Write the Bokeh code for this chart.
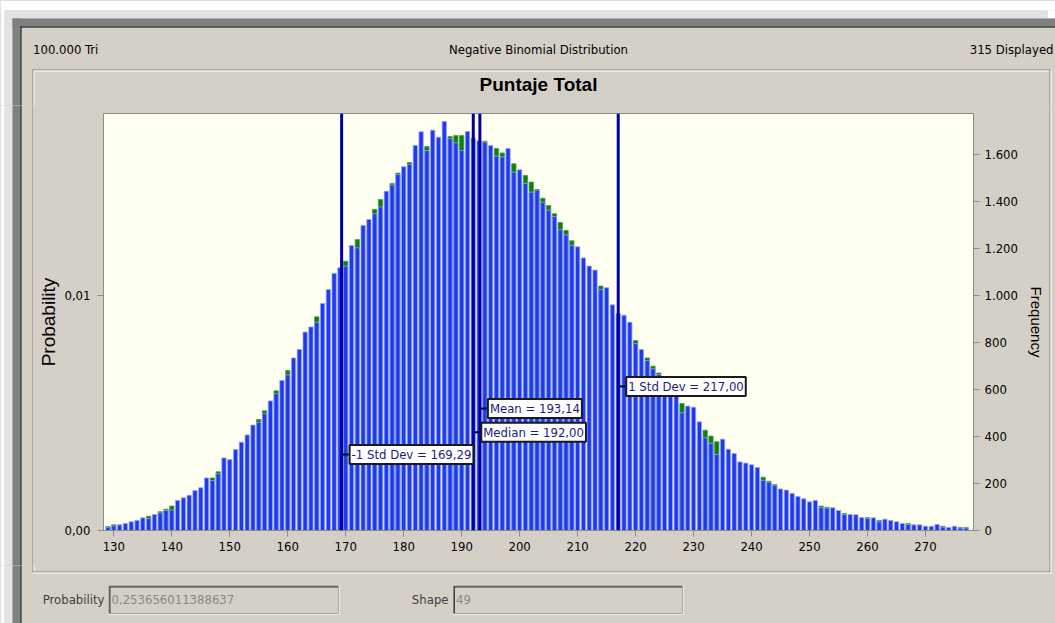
from bokeh.plotting import figure
from bokeh.layouts import column, row
from bokeh.models import (Range1d, LinearAxis, FixedTicker, CustomJSTickFormatter,
                          Span, Label)
from bokeh.core.properties import value
from bokeh.embed import file_html
from bokeh.resources import INLINE

# ---------------- data ----------------
bins = list(range(129, 278))
freq = [14, 20, 24, 30, 37, 43, 54, 51, 68, 75,          # 129-138
        85, 87, 128, 139, 150, 170, 182, 224, 213, 241,  # 139-148
        309, 302, 345, 376, 407, 449, 461, 498, 552, 582,  # 149-158
        639, 663, 735, 771, 845, 867, 887, 967, 1026, 1095,  # 159-168
        1119, 1126, 1214, 1204, 1299, 1325, 1349, 1378, 1445, 1471,  # 169-178
        1516, 1549, 1559, 1640, 1698, 1618, 1705, 1675, 1742, 1669,  # 179-188
        1651, 1618, 1699, 1672, 1660, 1654, 1640, 1594, 1591, 1627,  # 189-198
        1526, 1536, 1478, 1441, 1449, 1398, 1364, 1337, 1281, 1259,  # 199-208
        1215, 1208, 1161, 1126, 1109, 1026, 1034, 961, 924, 917,  # 209-218
        887, 796, 771, 724, 689, 664, 643, 608, 579, 501,  # 219-228
        530, 525, 463, 395, 371, 324, 389, 346, 328, 292,  # 229-238
        287, 280, 268, 214, 206, 192, 177, 172, 158, 145,  # 239-248
        135, 122, 128, 97, 95, 97, 85, 68, 68, 67,  # 249-258
        55, 51, 54, 37, 48, 43, 37, 30, 26, 24,  # 259-268
        24, 18, 18, 26, 14, 13, 18, 10, 10]  # 269-277

fit_bins = [129, 130, 136, 138, 139, 140, 147, 148, 155, 156, 158, 160, 165, 170,
            172, 175, 176, 178, 179, 181, 184, 188, 189, 190, 194, 196, 197, 199,
            201, 202, 203, 204, 205, 206, 207, 208, 209, 214, 220, 222, 223, 224,
            228, 232, 233, 234, 242, 243, 244, 252, 253, 256, 260, 262, 267, 273,
            276, 277]
fit_vals = [17, 24, 61, 80, 91, 104, 224, 250, 473, 510, 595, 681, 910, 1147,
            1239, 1367, 1410, 1478, 1522, 1567, 1635, 1678, 1682, 1682, 1658, 1627, 1608, 1562,
            1512, 1484, 1452, 1415, 1384, 1349, 1312, 1278, 1234, 1041, 809, 735, 700, 671,
            541, 427, 402, 378, 227, 210, 196, 104, 99, 72, 55, 43, 30, 18,
            13, 13]

stat_names = ["-1 Std Dev", "Median", "Mean", "1 Std Dev"]
stat_vals = [169.29, 192.00, 193.14, 217.00]

x_ticks = list(range(130, 271, 10))
freq_ticks = list(range(0, 1601, 200))
prob_ticks = [0.0, 0.01]
trials = 100000

header_left = "100.000 Tri"
header_mid = "Negative Binomial Distribution"
header_right = "315 Displayed"
chart_title = "Puntaje Total"
param1_name, param1_val = "Probability", "0,253656011388637"
param2_name, param2_val = "Shape", "49"

# ---------------- styling ----------------
UI = "DejaVu Sans Condensed, Liberation Sans"
SANS = "Liberation Sans"
PANEL = "#d4d0c8"
FMAX = 1775.9
XMIN, XMAX = 128.22, 278.28

def no_align(f):
    try:
        f.frame_align = False
    except Exception:
        pass

# ---------------- main chart ----------------
p = figure(x_range=Range1d(XMIN, XMAX), y_range=Range1d(0, FMAX / trials),
           width=1015, height=460,
           min_border_left=70, min_border_right=75, min_border_top=8, min_border_bottom=35,
           output_backend="svg", toolbar_location=None,
           background_fill_color="#fffff2", border_fill_color=PANEL,
           outline_line_color="#8c8c8c")
p.grid.visible = False
p.extra_y_ranges = {"freq": Range1d(0, FMAX)}
no_align(p)

def style_axis(ax):
    ax.major_label_text_font = UI
    ax.major_label_text_font_size = "13px"
    ax.major_label_text_color = "#000000"
    ax.axis_line_color = "#8c8c8c"
    ax.major_tick_line_color = "#8c8c8c"
    ax.minor_tick_line_color = None
    ax.major_tick_in = 0
    ax.major_tick_out = 6
    ax.axis_label_text_font_style = "normal"
    ax.axis_label_text_color = "#000000"

xa = p.xaxis[0]
style_axis(xa)
xa.ticker = FixedTicker(ticks=x_ticks)
xa.major_label_standoff = 5

ya = p.yaxis[0]
style_axis(ya)
ya.ticker = FixedTicker(ticks=prob_ticks)
ya.formatter = CustomJSTickFormatter(code="return tick.toFixed(2).replace('.', ',');")
ya.axis_label = "Probability"
ya.axis_label_text_font = SANS
ya.axis_label_text_font_size = "19px"
ya.axis_label_standoff = 2
ya.major_label_standoff = 7

ra = LinearAxis(y_range_name="freq")
style_axis(ra)
ra.ticker = FixedTicker(ticks=freq_ticks)
ra.formatter = CustomJSTickFormatter(code="""
const s = Math.round(tick).toString();
return s.length > 3 ? s.slice(0, -3) + '.' + s.slice(-3) : s;
""")
ra.axis_label = "Frequency"
ra.axis_label_text_font = SANS
ra.axis_label_text_font_size = "15px"
ra.axis_label_standoff = 7
ra.major_label_standoff = 5
p.add_layout(ra, "right")

# fitted counts (green) underneath, simulated frequencies (blue) on top
p.vbar(x=fit_bins, top=fit_vals, width=0.74, bottom=0, y_range_name="freq",
       fill_color="#0b800b", line_color="#4a9a4a", line_width=0.8)
p.vbar(x=bins, top=freq, width=0.74, bottom=0, y_range_name="freq",
       fill_color="#1e3af0", line_color="#9aa4f4", line_width=0.8)

for v in stat_vals:
    p.add_layout(Span(location=v, dimension="height", line_color="#0000a0", line_width=3))

PX_PER_UNIT = 870 / (XMAX - XMIN)
label_y = {"-1 Std Dev": 323.7, "Median": 418.6, "Mean": 519.6, "1 Std Dev": 613.7}
p.scatter(x=[v + 4 / PX_PER_UNIT for v in stat_vals], y=[label_y[n] for n in stat_names],
          marker="dash", size=6, line_color="black", line_width=2, y_range_name="freq")
for n, v in zip(stat_names, stat_vals):
    txt = f"{n} = {v:.2f}".replace(".", ",")
    p.add_layout(Label(x=v, y=label_y[n], y_range_name="freq", text=txt,
                       x_offset=8, text_baseline="middle", text_align="left",
                       text_font=UI, text_font_size="13px", text_color="#1c1c80",
                       background_fill_color="white", border_line_color="#1a1a1a",
                       border_line_width=2, padding=2))

# ---------------- window chrome, in page pixels ----------------
chrome = [  # x0, y0, x1, y1, colour
    (0, 0, 1055, 10, "#ffffff"), (0, 0, 4, 623, "#ffffff"), (1047, 10, 1055, 18, "#ffffff"),
    (4, 10, 1047, 18, "#e3e3e3"), (4, 10, 12, 623, "#e3e3e3"),
    (12, 18, 1055, 26, "#808080"), (12, 18, 20, 623, "#808080"),
    (20, 26, 1055, 27, "#000000"), (20, 26, 21, 623, "#000000"),
    (32, 69, 1050, 70, "#808080"), (33, 70, 1049, 71, "#ffffff"),
    (32, 69, 33, 572, "#808080"), (33, 70, 34, 571, "#ffffff"),
    (32, 571, 1050, 572, "#808080"), (32, 572, 1051, 573, "#ffffff"),
    (1049, 69, 1050, 572, "#808080"), (1050, 69, 1051, 573, "#ffffff"),
]
for (x0, x1) in [(108, 338), (452.5, 682)]:
    chrome += [(x0, 585, x1 + 1, 614, "#ffffff"), (x0, 585, x1, 613, "#808080"),
               (x0 + 1, 586, x1, 613, "#404040"), (x0 + 2, 587, x1, 613, PANEL)]

def chrome_fig(x0, x1, y0, y1, texts=()):
    f = figure(width=x1 - x0, height=y1 - y0, x_range=Range1d(x0, x1), y_range=Range1d(y1, y0),
               min_border=0, toolbar_location=None, output_backend="svg",
               x_axis_type=None, y_axis_type=None, background_fill_color=PANEL,
               border_fill_color=PANEL, outline_line_color=None)
    f.grid.visible = False
    no_align(f)
    f.quad(left=[c[0] for c in chrome], right=[c[2] for c in chrome],
           top=[c[1] for c in chrome], bottom=[c[3] for c in chrome],
           fill_color=[c[4] for c in chrome], line_color=None)
    for (tx, ty, s, align, font, size, color, style) in texts:
        f.text(x=[tx], y=[ty], text=[s], text_align=align, text_baseline="middle",
               text_font=value(font), text_font_size=value(size), text_color=color,
               text_font_style=style)
    return f

head = chrome_fig(0, 1055, 0, 105, texts=[
    (32.5, 49, header_left, "left", UI, "13px", "#000000", "normal"),
    (538, 49, header_mid, "center", UI, "13px", "#000000", "normal"),
    (1053, 49, header_right, "right", UI, "13px", "#000000", "normal"),
    (538, 84, chart_title, "center", SANS, "19px", "#000000", "bold"),
])
left = chrome_fig(0, 33, 105, 565)
right = chrome_fig(1048, 1055, 105, 565)
foot = chrome_fig(0, 1055, 565, 623, texts=[
    (104, 599, param1_name, "right", UI, "13px", "#404040", "normal"),
    (111, 599, param1_val, "left", UI, "13px", "#888888", "normal"),
    (448, 599, param2_name, "right", UI, "13px", "#404040", "normal"),
    (455.5, 599, param2_val, "left", UI, "13px", "#888888", "normal"),
])

middle = row(left, p, right, spacing=0, styles={"background-color": PANEL})
layout = column(head, middle, foot, spacing=0, styles={"background-color": PANEL})
open("out.html", "w").write(file_html(layout, INLINE))
